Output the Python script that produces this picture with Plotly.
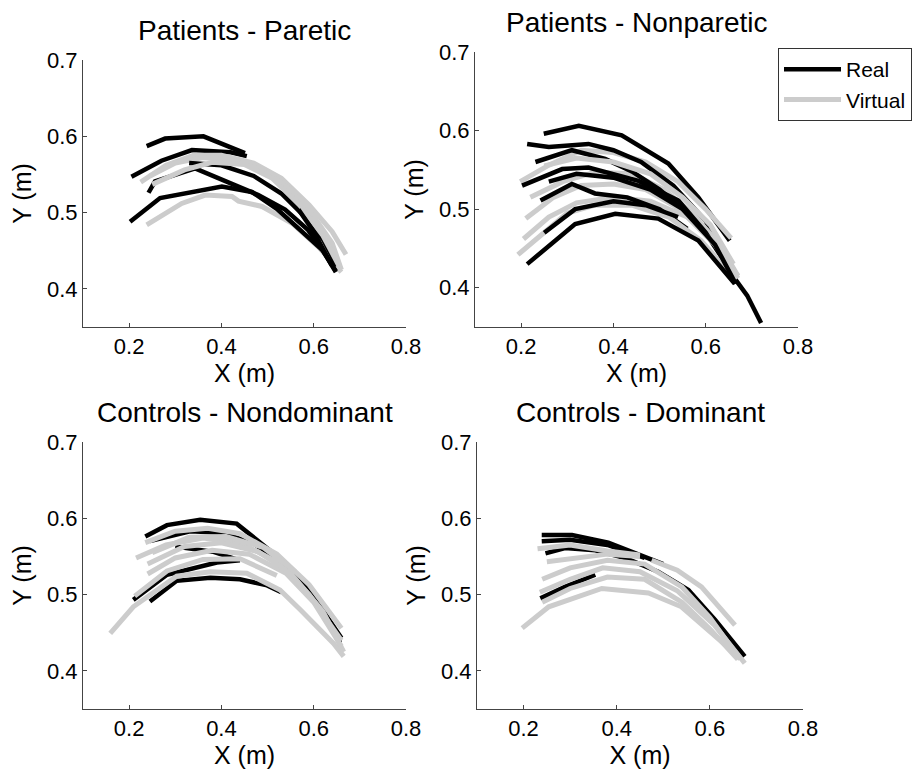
import plotly.graph_objects as go

# ---------------- data ----------------
TITLES = ["Patients - Paretic", "Patients - Nonparetic",
          "Controls - Nondominant", "Controls - Dominant"]
X_TICKS = [0.2, 0.4, 0.6, 0.8]
Y_TICKS = [0.4, 0.5, 0.6, 0.7]

# Panel 1: Patients - Paretic
paretic_real_x = [
    [0.238, 0.278, 0.361, 0.451],
    [0.205, 0.270, 0.336, 0.420, 0.455],
    [0.242, 0.256, 0.343, 0.401, 0.480, 0.538, 0.588, 0.620, 0.648],
    [0.330, 0.400, 0.470, 0.530, 0.580, 0.620, 0.650],
    [0.202, 0.267, 0.401, 0.466, 0.520, 0.575, 0.620, 0.648],
    [0.567, 0.600, 0.640],
]
paretic_real_y = [
    [0.587, 0.597, 0.600, 0.578],
    [0.547, 0.568, 0.582, 0.579, 0.574],
    [0.526, 0.541, 0.558, 0.543, 0.523, 0.504, 0.477, 0.450, 0.423],
    [0.565, 0.562, 0.548, 0.525, 0.495, 0.465, 0.430],
    [0.488, 0.519, 0.534, 0.527, 0.505, 0.475, 0.450, 0.422],
    [0.504, 0.475, 0.430],
]
paretic_virt_x = [
    [0.238, 0.314, 0.365, 0.423, 0.437, 0.488, 0.553, 0.610, 0.660],
    [0.225, 0.280, 0.340, 0.400, 0.470, 0.530, 0.590, 0.640, 0.670],
    [0.245, 0.300, 0.360, 0.420, 0.490, 0.550, 0.600, 0.640, 0.660],
    [0.250, 0.320, 0.380, 0.450, 0.510, 0.570, 0.620, 0.655],
]
paretic_virt_y = [
    [0.484, 0.512, 0.523, 0.521, 0.515, 0.508, 0.486, 0.455, 0.422],
    [0.540, 0.562, 0.575, 0.575, 0.565, 0.545, 0.510, 0.475, 0.445],
    [0.548, 0.565, 0.572, 0.570, 0.555, 0.530, 0.495, 0.460, 0.425],
    [0.537, 0.556, 0.566, 0.563, 0.545, 0.510, 0.470, 0.430],
]

# Panel 2: Patients - Nonparetic
nonparetic_real_x = [
    [0.249, 0.325, 0.418, 0.519, 0.584, 0.652],
    [0.213, 0.260, 0.346, 0.400, 0.460, 0.530, 0.600, 0.660],
    [0.231, 0.310, 0.382, 0.440, 0.500, 0.550],
    [0.202, 0.289, 0.346, 0.454, 0.541, 0.600, 0.655],
    [0.242, 0.310, 0.360, 0.430, 0.500, 0.560],
    [0.260, 0.320, 0.400, 0.480, 0.550, 0.620, 0.665],
    [0.250, 0.317, 0.400, 0.470, 0.540],
    [0.213, 0.317, 0.404, 0.497, 0.584, 0.663],
    [0.665, 0.690, 0.720],
]
nonparetic_real_y = [
    [0.596, 0.606, 0.594, 0.558, 0.515, 0.460],
    [0.583, 0.579, 0.583, 0.575, 0.560, 0.530, 0.485, 0.410],
    [0.560, 0.575, 0.564, 0.548, 0.525, 0.500],
    [0.530, 0.551, 0.553, 0.536, 0.511, 0.470, 0.420],
    [0.511, 0.532, 0.520, 0.515, 0.500, 0.475],
    [0.535, 0.545, 0.540, 0.525, 0.500, 0.455, 0.405],
    [0.470, 0.500, 0.510, 0.505, 0.490],
    [0.430, 0.481, 0.494, 0.488, 0.460, 0.405],
    [0.410, 0.390, 0.355],
]
nonparetic_virt_x = [
    [0.198, 0.260, 0.330, 0.400, 0.470, 0.540, 0.600, 0.655],
    [0.220, 0.290, 0.360, 0.440, 0.510, 0.570, 0.630, 0.670],
    [0.210, 0.270, 0.330, 0.400, 0.470, 0.530, 0.600, 0.670],
    [0.205, 0.260, 0.320, 0.400, 0.480, 0.560, 0.620, 0.670],
    [0.193, 0.250, 0.300, 0.360, 0.440, 0.520, 0.590, 0.665],
    [0.250, 0.320, 0.400, 0.480, 0.550, 0.610, 0.660],
]
nonparetic_virt_y = [
    [0.535, 0.556, 0.575, 0.572, 0.560, 0.535, 0.500, 0.463],
    [0.515, 0.535, 0.547, 0.545, 0.525, 0.495, 0.455, 0.415],
    [0.488, 0.515, 0.530, 0.532, 0.525, 0.505, 0.470, 0.415],
    [0.462, 0.490, 0.508, 0.515, 0.510, 0.490, 0.455, 0.412],
    [0.442, 0.470, 0.495, 0.505, 0.505, 0.490, 0.460, 0.410],
    [0.555, 0.565, 0.560, 0.545, 0.515, 0.480, 0.430],
]

# Panel 3: Controls - Nondominant
nondominant_real_x = [
    [0.235, 0.282, 0.354, 0.433, 0.513, 0.571, 0.620, 0.657],
    [0.245, 0.332, 0.400, 0.470, 0.540, 0.600, 0.660],
    [0.300, 0.383, 0.433],
    [0.209, 0.282, 0.390, 0.440],
    [0.245, 0.303, 0.376, 0.440, 0.499, 0.530],
]
nondominant_real_y = [
    [0.576, 0.591, 0.598, 0.593, 0.554, 0.519, 0.480, 0.437],
    [0.570, 0.583, 0.581, 0.567, 0.537, 0.497, 0.443],
    [0.563, 0.556, 0.546],
    [0.493, 0.526, 0.542, 0.545],
    [0.491, 0.518, 0.522, 0.520, 0.512, 0.503],
]
nondominant_virt_x = [
    [0.159, 0.209, 0.303, 0.376, 0.455, 0.527, 0.571, 0.643, 0.665],
    [0.212, 0.282, 0.360, 0.440, 0.520],
    [0.240, 0.300, 0.380, 0.460, 0.540, 0.600, 0.660],
    [0.215, 0.280, 0.360, 0.440, 0.520, 0.590, 0.660],
    [0.235, 0.300, 0.370, 0.440, 0.520, 0.590, 0.660],
    [0.240, 0.320, 0.400, 0.480, 0.550, 0.620, 0.665],
    [0.250, 0.330, 0.410, 0.490, 0.560],
]
nondominant_virt_y = [
    [0.449, 0.484, 0.524, 0.530, 0.528, 0.506, 0.480, 0.436, 0.419],
    [0.498, 0.531, 0.546, 0.547, 0.525],
    [0.527, 0.548, 0.558, 0.553, 0.528, 0.490, 0.432],
    [0.548, 0.565, 0.574, 0.568, 0.543, 0.500, 0.440],
    [0.568, 0.583, 0.587, 0.580, 0.553, 0.513, 0.456],
    [0.540, 0.563, 0.568, 0.556, 0.528, 0.478, 0.425],
    [0.555, 0.575, 0.576, 0.562, 0.530],
]

# Panel 4: Controls - Dominant
dominant_real_x = [
    [0.239, 0.304, 0.382, 0.461, 0.500],
    [0.239, 0.300, 0.380, 0.460],
    [0.247, 0.289, 0.354, 0.418, 0.489, 0.554, 0.611, 0.675],
    [0.236, 0.289, 0.354],
]
dominant_real_y = [
    [0.578, 0.578, 0.568, 0.550, 0.540],
    [0.570, 0.572, 0.565, 0.548],
    [0.554, 0.561, 0.558, 0.548, 0.530, 0.506, 0.467, 0.419],
    [0.495, 0.510, 0.526],
]
dominant_virt_x = [
    [0.197, 0.254, 0.368, 0.468, 0.539, 0.596, 0.654],
    [0.240, 0.300, 0.380, 0.460, 0.540, 0.600, 0.660],
    [0.235, 0.300, 0.370, 0.450, 0.530, 0.610, 0.675],
    [0.240, 0.300, 0.380, 0.460, 0.540, 0.600, 0.665],
    [0.250, 0.310, 0.380, 0.450],
    [0.230, 0.300, 0.380, 0.450],
    [0.475, 0.530, 0.582, 0.654],
]
dominant_virt_y = [
    [0.456, 0.484, 0.508, 0.502, 0.484, 0.454, 0.423],
    [0.490, 0.508, 0.523, 0.520, 0.490, 0.455, 0.415],
    [0.503, 0.520, 0.535, 0.530, 0.505, 0.460, 0.410],
    [0.520, 0.535, 0.545, 0.540, 0.510, 0.470, 0.415],
    [0.543, 0.548, 0.553, 0.550],
    [0.560, 0.565, 0.557, 0.552],
    [0.545, 0.532, 0.510, 0.460],
]

PANELS = [
    (paretic_real_x, paretic_real_y, paretic_virt_x, paretic_virt_y),
    (nonparetic_real_x, nonparetic_real_y, nonparetic_virt_x, nonparetic_virt_y),
    (nondominant_real_x, nondominant_real_y, nondominant_virt_x, nondominant_virt_y),
    (dominant_real_x, dominant_real_y, dominant_virt_x, dominant_virt_y),
]
# in the control panels the virtual paths are drawn over the real ones
INTERLEAVE = [True, True, False, False]

# ---------------- layout ----------------
W, H = 919, 770
FONT = "Arial, 'Liberation Sans', Helvetica, sans-serif"
REAL_C = "#000000"
VIRT_C = "#cccccc"
AX_C = "#444444"

# axes boxes in pixels: (left, right, top, bottom)
BOXES = [(83, 406, 60, 327), (475, 798, 52, 327),
         (83, 406, 442, 709), (477, 803, 442, 709)]

fig = go.Figure()


def add_line(x, y, xa, ya, real, show):
    fig.add_trace(go.Scatter(
        x=x, y=y, mode="lines", xaxis=xa, yaxis=ya,
        line=dict(color=REAL_C if real else VIRT_C, width=4.5 if real else 5),
        name="Real" if real else "Virtual",
        legendgroup="Real" if real else "Virtual",
        showlegend=show, hoverinfo="skip"))


for i, (rx, ry, vx, vy) in enumerate(PANELS):
    xa = "x" if i == 0 else f"x{i+1}"
    ya = "y" if i == 0 else f"y{i+1}"
    if INTERLEAVE[i]:
        order = []
        for k in range(max(len(rx), len(vx))):
            if k < len(rx):
                order.append((True, k))
            if k < len(vx):
                order.append((False, k))
    else:
        order = [(True, k) for k in range(len(rx))] + [(False, k) for k in range(len(vx))]
    for real, k in order:
        show = (i == 1 and k == 0)
        if real:
            add_line(rx[k], ry[k], xa, ya, True, show)
        else:
            add_line(vx[k], vy[k], xa, ya, False, show)

layout = dict(
    template="none",
    width=W, height=H,
    margin=dict(l=0, r=0, t=0, b=0, pad=0),
    paper_bgcolor="white", plot_bgcolor="white",
    font=dict(family=FONT, size=22, color="black"),
    showlegend=True,
    legend=dict(x=778 / W, y=1 - 48 / H, xanchor="left", yanchor="top",
                bgcolor="white", bordercolor="#333333", borderwidth=1,
                font=dict(size=21, family=FONT), itemwidth=57,
                tracegroupgap=0, traceorder="normal"),
)

annotations = []
for i, (l, r, t, b) in enumerate(BOXES):
    sfx = "" if i == 0 else str(i + 1)
    layout[f"xaxis{sfx}"] = dict(
        domain=[l / W, r / W], anchor=f"y{sfx}", range=[0.1, 0.8],
        automargin=False,
        tickvals=X_TICKS, ticktext=[f"{v:.1f}" for v in X_TICKS],
        showline=True, linecolor=AX_C, linewidth=1, mirror=False,
        ticks="inside", ticklen=4, tickcolor=AX_C, showgrid=False, zeroline=False,
        tickfont=dict(size=22, family=FONT, color="black"),
        title=dict(text="X (m)", font=dict(size=25, family=FONT, color="black"), standoff=2),
    )
    layout[f"yaxis{sfx}"] = dict(
        domain=[1 - b / H, 1 - t / H], anchor=f"x{sfx}", range=[0.35, 0.7],
        automargin=False,
        tickvals=Y_TICKS, ticktext=[f"{v:.1f}" for v in Y_TICKS],
        showline=True, linecolor=AX_C, linewidth=1, mirror=False,
        ticks="inside", ticklen=4, tickcolor=AX_C, showgrid=False, zeroline=False,
        tickfont=dict(size=22, family=FONT, color="black"),
        title=dict(text="Y (m)", font=dict(size=25, family=FONT, color="black"), standoff=8),
    )
    annotations.append(dict(
        text=TITLES[i], x=(l + r) / 2 / W, y=1 - t / H, xref="paper", yref="paper",
        xanchor="center", yanchor="bottom", yshift=12, showarrow=False,
        font=dict(size=28, family=FONT, color="black")))

layout["annotations"] = annotations
fig.update_layout(**layout)
fig.write_html("out.html", config={"displayModeBar": False},
               post_script="document.body.style.margin='0';document.body.style.overflow='hidden';")
